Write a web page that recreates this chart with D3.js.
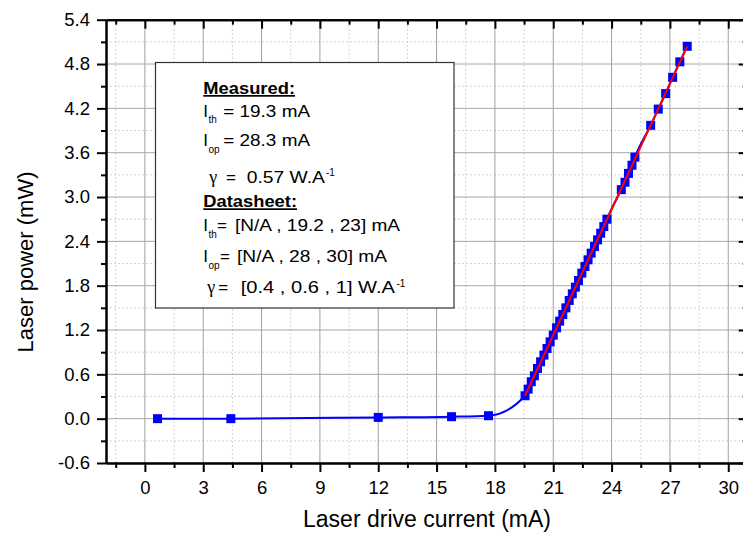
<!DOCTYPE html>
<html><head><meta charset="utf-8">
<script src="https://cdn.jsdelivr.net/npm/d3@7"></script>
<style>body{margin:0;background:#fff;} svg{display:block;font-family:"Liberation Sans",Arial,sans-serif;}</style>
</head><body><svg id="c" width="743" height="533"></svg>
<script>
// ---- data ----
const current = [0.65, 4.42, 12.0, 15.77, 17.67,
  19.55, 19.71, 19.87, 20.03, 20.19, 20.35, 20.52, 20.68, 20.84, 21.00,
  21.17, 21.33, 21.49, 21.65, 21.82, 21.98, 22.14, 22.30, 22.47, 22.63,
  22.79, 22.95, 23.12, 23.28, 23.44, 23.60, 23.76,
  24.50, 24.69, 24.87, 25.05, 25.20,
  26.01, 26.40, 26.78, 27.14, 27.51, 27.89];
const power = [0.00, 0.00, 0.017, 0.027, 0.04,
  0.31, 0.40, 0.50, 0.58, 0.68, 0.77, 0.86, 0.95, 1.04, 1.13,
  1.23, 1.32, 1.41, 1.50, 1.60, 1.69, 1.78, 1.87, 1.97, 2.06,
  2.15, 2.24, 2.33, 2.42, 2.51, 2.60, 2.70,
  3.10, 3.20, 3.32, 3.43, 3.54,
  3.97, 4.19, 4.40, 4.62, 4.83, 5.04];
const fitCurrent = [19.55, 27.89];
const fitPower = [0.31, 5.04];
const xTicks = [0, 3, 6, 9, 12, 15, 18, 21, 24, 27, 30];
const xMinor = [-1.5, 1.5, 4.5, 7.5, 10.5, 13.5, 16.5, 19.5, 22.5, 25.5, 28.5];
const yTicks = [-0.6, 0.0, 0.6, 1.2, 1.8, 2.4, 3.0, 3.6, 4.2, 4.8, 5.4];
const yMinor = [-0.3, 0.3, 0.9, 1.5, 2.1, 2.7, 3.3, 3.9, 4.5, 5.1];
const xLabel = "Laser drive current (mA)";
const yLabel = "Laser power (mW)";

const svg = d3.select("#c");
const x = d3.scaleLinear().domain([-2, 31]).range([106, 747.7]);
const y = d3.scaleLinear().domain([-0.6, 5.4]).range([463, 19.7]);
const X0 = 106, X1 = 747.7, Y0 = 463, Y1 = 19.7;

// ---- grid ----
const grid = svg.append("g");
grid.selectAll(".vm").data(xMinor).join("line")
  .attr("x1", d => x(d)).attr("x2", d => x(d)).attr("y1", Y0).attr("y2", Y1)
  .attr("stroke", "#d4d4d4").attr("stroke-dasharray", "2,2");
grid.selectAll(".hm").data(yMinor).join("line")
  .attr("x1", X0).attr("x2", X1).attr("y1", d => y(d)).attr("y2", d => y(d))
  .attr("stroke", "#d4d4d4").attr("stroke-dasharray", "2,2");
grid.selectAll(".vM").data(xTicks).join("line")
  .attr("x1", d => x(d)).attr("x2", d => x(d)).attr("y1", Y0).attr("y2", Y1)
  .attr("stroke", "#a0a0a0");
grid.selectAll(".hM").data(yTicks).join("line")
  .attr("x1", X0).attr("x2", X1).attr("y1", d => y(d)).attr("y2", d => y(d))
  .attr("stroke", "#a8a8a8");

// ---- legend box ----
const lg = svg.append("g");
lg.append("rect").attr("x", 155.5).attr("y", 62.5).attr("width", 298.5).attr("height", 245.5)
  .attr("fill", "#fff").attr("stroke", "#333").attr("stroke-width", 1.2);
function t(xp, yp, str, size, opts = {}) {
  const el = lg.append("text").attr("x", xp).attr("y", yp)
    .attr("font-size", size).attr("fill", "#000").text(str);
  if (opts.w) el.attr("textLength", opts.w).attr("lengthAdjust", "spacingAndGlyphs");
  if (opts.bold) el.attr("font-weight", "bold");
  if (opts.u) el.attr("text-decoration", "underline");
  if (opts.serif) el.attr("font-family", "'Liberation Serif','Times New Roman',serif");
  return el;
}
t(203.3, 94, "Measured:", 17, {bold: true, u: true, w: 91.7});
t(203.3, 116.7, "I", 17); t(208.5, 123.3, "th", 10); t(223.3, 116.7, "= 19.3 mA", 17, {w: 86.7});
t(203.3, 146, "I", 17); t(208.5, 153, "op", 10); t(223.3, 146, "= 28.3 mA", 17, {w: 86.7});
t(209.3, 182.7, "γ", 18, {serif: true}); t(226, 182.7, "=", 17); t(246.7, 182.7, "0.57 W.A", 17, {w: 78.3}); t(326, 176, "-1", 10);
t(203.3, 207.3, "Datasheet:", 17, {bold: true, u: true, w: 93.7});
t(203.3, 231.3, "I", 17); t(208.5, 238, "th", 10); t(217, 231.3, "=", 17); t(235, 231.3, "[N/A , 19.2 , 23] mA", 17, {w: 165});
t(203.3, 261.7, "I", 17); t(208.5, 268.5, "op", 10); t(220, 261.7, "=", 17); t(237, 261.7, "[N/A , 28 , 30] mA", 17, {w: 150});
t(207.3, 293.3, "γ", 18, {serif: true}); t(218.3, 293.3, "=", 17); t(240.7, 293.3, "[0.4 , 0.6 , 1] W.A", 17, {w: 154.3}); t(396.5, 286.5, "-1", 10);

// ---- data marks ----
const pts = current.map((c, i) => [c, power[i]]);
svg.append("path").datum(pts)
  .attr("d", d3.line().x(d => x(d[0])).y(d => y(d[1])).curve(d3.curveMonotoneX))
  .attr("fill", "none").attr("stroke", "#0000ff").attr("stroke-width", 2);
svg.append("g").selectAll("rect").data(pts).join("rect")
  .attr("x", d => x(d[0]) - 4.5).attr("y", d => y(d[1]) - 4.5)
  .attr("width", 9).attr("height", 9).attr("fill", "#0000ff");
const fit = fitCurrent.map((c, i) => [c, fitPower[i]]);
svg.append("path").datum(fit)
  .attr("d", d3.line().x(d => x(d[0])).y(d => y(d[1])))
  .attr("fill", "none").attr("stroke", "#ff0000").attr("stroke-width", 2);

// ---- axes ----
function style(g, fs) {
  g.select(".domain").attr("stroke", "#000").attr("stroke-width", 2);
  g.selectAll(".tick line").attr("stroke", "#000").attr("stroke-width", 2);
  g.selectAll("text").attr("font-size", fs).attr("fill", "#000")
    .attr("font-family", "'Liberation Sans',Arial,sans-serif");
}
const fx = d => String(d);
const fy = d => d.toFixed(1);
svg.append("g").attr("transform", `translate(0,${Y0})`)
  .call(d3.axisBottom(x).tickValues(xTicks).tickFormat(fx).tickSize(9).tickPadding(9).tickSizeOuter(0))
  .call(g => style(g, 18.5));
svg.append("g").attr("transform", `translate(0,${Y0})`)
  .call(d3.axisBottom(x).tickValues(xMinor).tickFormat("").tickSize(5).tickSizeOuter(0))
  .call(g => style(g, 10));
svg.append("g").attr("transform", `translate(0,${Y1})`)
  .call(d3.axisBottom(x).tickValues(xTicks).tickFormat("").tickSize(9).tickSizeOuter(0))
  .call(g => style(g, 10));
svg.append("g").attr("transform", `translate(0,${Y1})`)
  .call(d3.axisBottom(x).tickValues(xMinor).tickFormat("").tickSize(5).tickSizeOuter(0))
  .call(g => style(g, 10));
svg.append("g").attr("transform", `translate(${X0},0)`)
  .call(d3.axisLeft(y).tickValues(yTicks).tickFormat(fy).tickSize(9).tickPadding(7).tickSizeOuter(0))
  .call(g => style(g, 18.5));
svg.append("g").attr("transform", `translate(${X0},0)`)
  .call(d3.axisLeft(y).tickValues(yMinor).tickFormat("").tickSize(5).tickSizeOuter(0))
  .call(g => style(g, 10));
svg.append("g").attr("transform", `translate(${X1},0)`)
  .call(d3.axisLeft(y).tickValues(yTicks).tickFormat("").tickSize(9).tickSizeOuter(0))
  .call(g => style(g, 10));
svg.append("g").attr("transform", `translate(${X1},0)`)
  .call(d3.axisLeft(y).tickValues(yMinor).tickFormat("").tickSize(5).tickSizeOuter(0))
  .call(g => style(g, 10));

// ---- titles ----
svg.append("text").attr("x", 427).attr("y", 526.5).attr("text-anchor", "middle")
  .attr("font-size", 23).attr("fill", "#000").text(xLabel);
svg.append("text").attr("transform", "translate(33,262) rotate(-90)").attr("text-anchor", "middle")
  .attr("font-size", 22).attr("fill", "#000").text(yLabel);
</script></body></html>
